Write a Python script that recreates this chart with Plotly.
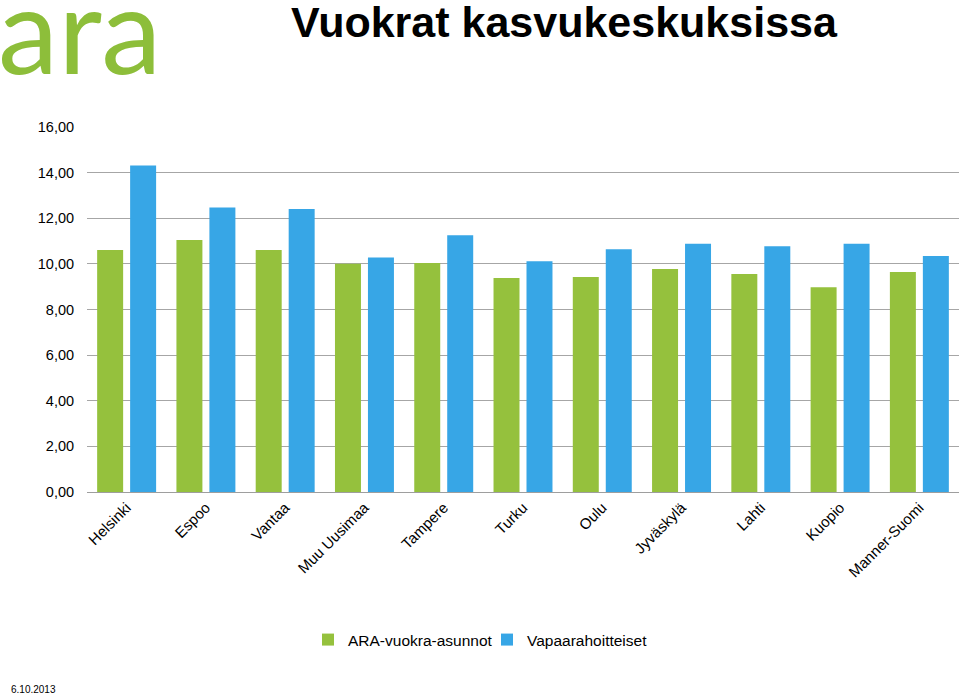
import plotly.graph_objects as go

categories = ["Helsinki", "Espoo", "Vantaa", "Muu Uusimaa", "Tampere", "Turku",
              "Oulu", "Jyväskylä", "Lahti", "Kuopio", "Manner-Suomi"]
ara_values = [10.61, 11.05, 10.61, 10.01, 10.04, 9.38, 9.42, 9.77, 9.56, 8.97, 9.64]
vapaa_values = [14.31, 12.47, 12.41, 10.28, 11.25, 10.12, 10.64, 10.88, 10.77, 10.88, 10.35]
series_names = ["ARA-vuokra-asunnot", "Vapaarahoitteiset"]
y_ticks = [0, 2, 4, 6, 8, 10, 12, 14, 16]

GREEN = "#95C13D"
BLUE = "#37A6E6"
W, H = 960, 695
L, R, T, B = 87, 1, 127, 203
PW, PH = W - L - R, H - T - B


def px(x):
    return (x - L) / PW


def py(y):
    return (H - B - y) / PH


fig = go.Figure()
fig.add_trace(go.Bar(x=categories, y=ara_values, name=series_names[0], legend="legend",
                     marker=dict(color=GREEN, line=dict(width=0))))
fig.add_trace(go.Bar(x=categories, y=vapaa_values, name=series_names[1], legend="legend2",
                     marker=dict(color=BLUE, line=dict(width=0))))

leg_common = dict(orientation="h", xref="container", yref="container",
                  xanchor="left", y=1 - 640 / H, yanchor="middle",
                  font=dict(size=15.5), bgcolor="rgba(0,0,0,0)")

fig.update_layout(
    width=W, height=H,
    margin=dict(l=L, r=R, t=T, b=B),
    paper_bgcolor="white", plot_bgcolor="white",
    barmode="group", bargap=0.168, bargroupgap=0.212,
    separators=",.",
    font=dict(family="Liberation Sans, Arial, sans-serif", color="black", size=15),
    showlegend=True,
    title=dict(text="<b>Vuokrat kasvukeskuksissa</b>", xref="container", yref="container",
               x=564 / W, xanchor="center", y=1 - 22 / H, yanchor="middle",
               font=dict(size=43, color="black", family="Liberation Sans, Arial, sans-serif")),
    legend=dict(x=(346 - 38) / W, **leg_common),
    legend2=dict(x=(525 - 38) / W, **leg_common),
    xaxis=dict(tickangle=-45, showgrid=False, showline=True, linecolor="#9E9E9E",
               linewidth=1, ticks="", tickfont=dict(size=15), fixedrange=True),
    yaxis=dict(range=[0, 16], tickvals=y_ticks, tickformat=".2f",
               showgrid=True, gridcolor="#A6A6A6", gridwidth=1, zeroline=False,
               showline=False, ticks="outside", ticklen=9,
               tickcolor="rgba(0,0,0,0)", tickfont=dict(size=14.5), fixedrange=True),
)

fig.add_annotation(text="ara", x=px(-4), y=py(28), xanchor="left", yanchor="middle",
                   xref="paper", yref="paper", showarrow=False,
                   font=dict(size=121, color="#8DBE3A", family="Lato, sans-serif"))
fig.add_annotation(text="6.10.2013", x=px(9), y=py(689), xanchor="left",
                   yanchor="middle", xref="paper", yref="paper", showarrow=False,
                   font=dict(size=10, color="black"))

fig.write_html("out.html", config={"displayModeBar": False},
               post_script="document.body.style.margin='0';")
